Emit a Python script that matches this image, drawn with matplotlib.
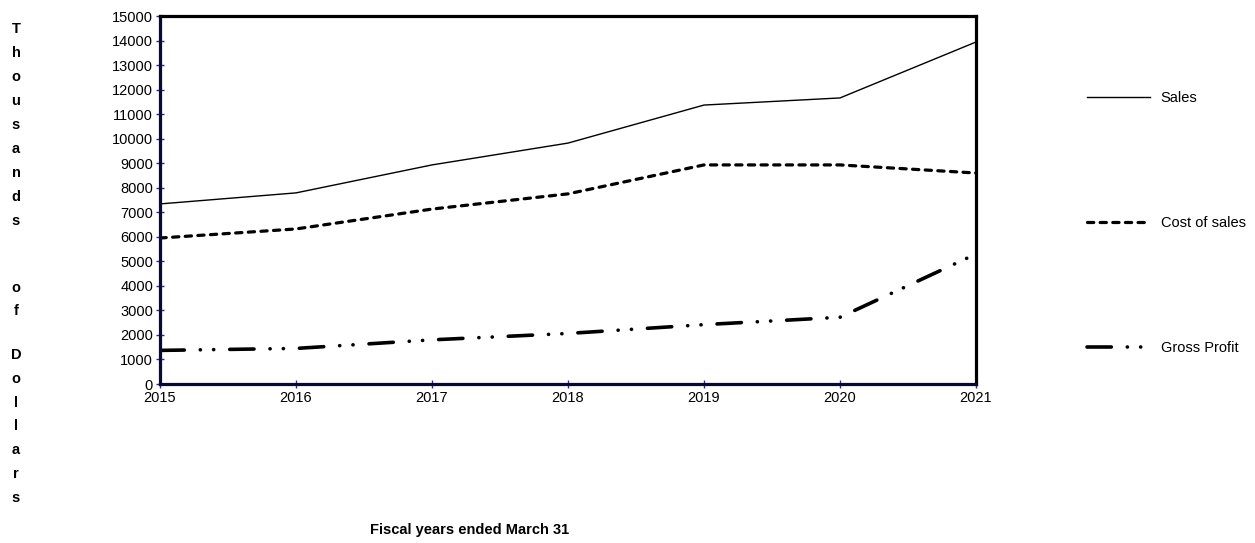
import matplotlib
matplotlib.use("Agg")
import matplotlib.pyplot as plt

years = [2015, 2016, 2017, 2018, 2019, 2020, 2021]
sales = [7340, 7790, 8930, 9820, 11370, 11660, 13940]
cost_of_sales = [5950, 6320, 7130, 7750, 8930, 8930, 8600]
gross_profit = [1370, 1450, 1800, 2060, 2420, 2720, 5300]
yticks = list(range(0, 15001, 1000))
series_labels = ["Sales", "Cost of sales", "Gross Profit"]

plt.rcParams['font.family'] = ['Liberation Sans', 'DejaVu Sans']
plt.rcParams['lines.scale_dashes'] = False

W, H = 1255, 543
fig = plt.figure(figsize=(W / 100, H / 100), dpi=100)
ax = fig.add_axes([160 / W, 1 - 384 / H, (976 - 160) / W, (384 - 16) / H])

ax.plot(years, sales, color='black', lw=1.0, label=series_labels[0])
ax.plot(years, cost_of_sales, color='black', lw=2.3, linestyle=(0, (4.5, 4.6)),
        dash_capstyle='round', label=series_labels[1])
ax.plot(years, gross_profit, color='black', lw=2.6,
        linestyle=(0, (17.5, 11.5, 0.1, 9.5, 0.1, 11.5)),
        dash_capstyle='round', label=series_labels[2])

ax.set_xlim(years[0], years[-1])
ax.set_ylim(0, 15000)
ax.set_xticks(years)
ax.set_yticks(yticks)
ax.tick_params(axis='both', direction='inout', length=6, width=1, color='#2a2a9a',
               labelsize=10.5, pad=2)
for s in ['top', 'right']:
    ax.spines[s].set_linewidth(2.3)
    ax.spines[s].set_color('black')
for s in ['left', 'bottom']:
    ax.spines[s].set_linewidth(2.3)
    ax.spines[s].set_color('#0a0a30')

# y label as stacked letters
blocks = [("T\nh\no\nu\ns\na\nn\nd\ns", 25, 225), ("o\nf", 289, 310), ("D\no\nl\nl\na\nr\ns", 353, 500)]
for txt, y0, y1 in blocks:
    fig.text(16 / W, 1 - ((y0 + y1) / 2) / H, txt, ha='center', va='center',
             fontsize=10.5, fontweight='bold', linespacing=1.9)

fig.text(470 / W, 1 - 530 / H, "Fiscal years ended March 31", ha='center', va='center',
         fontsize=10.5, fontweight='bold')

leg = fig.legend(loc='center left', bbox_to_anchor=(1087 / W, 1 - 223 / H),
                 frameon=False, fontsize=10.5, handlelength=4.3, handletextpad=0.75,
                 labelspacing=7.6, borderpad=0, borderaxespad=0)

fig.savefig("out.png", dpi=100)
